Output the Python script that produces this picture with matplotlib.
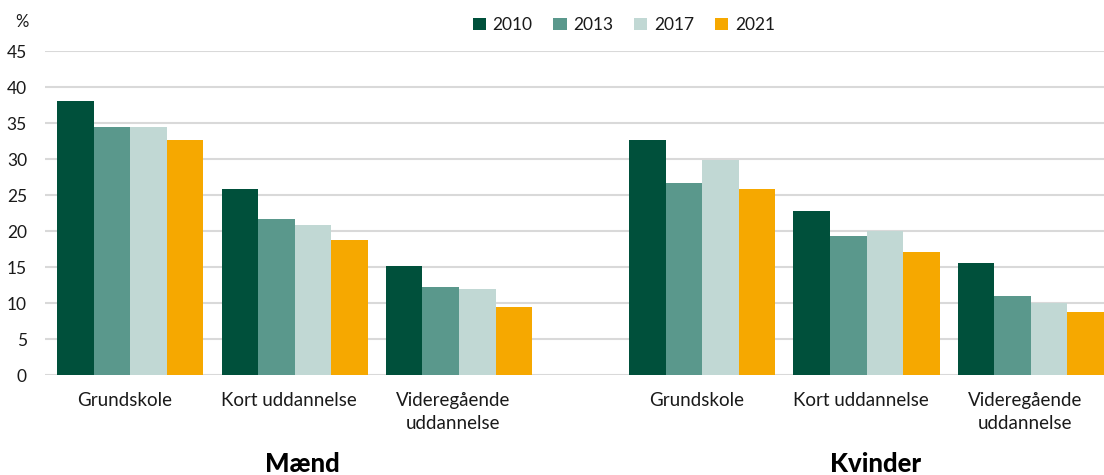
import matplotlib
matplotlib.use("Agg")
import matplotlib.pyplot as plt
from matplotlib.patches import Patch
import numpy as np

plt.rcParams['font.family'] = ['Lato', 'DejaVu Sans']

# data (percent)
years = ["2010", "2013", "2017", "2021"]
categories = ["Grundskole", "Kort uddannelse", "Videregående\nuddannelse"]
groups = ["Mænd", "Kvinder"]

maend_2010 = [38.1, 25.8, 15.2]
maend_2013 = [34.5, 21.6, 12.2]
maend_2017 = [34.4, 20.9, 12.0]
maend_2021 = [32.7, 18.7, 9.4]

kvinder_2010 = [32.7, 22.8, 15.6]
kvinder_2013 = [26.6, 19.3, 11.0]
kvinder_2017 = [29.8, 20.0, 10.0]
kvinder_2021 = [25.8, 17.1, 8.8]

colors = ["#00503B", "#5A988C", "#C1D8D4", "#F6A800"]
text_color = "#1a1a1a"
grid_color = "#d9d9d9"

series = [maend_2010 + kvinder_2010,
          maend_2013 + kvinder_2013,
          maend_2017 + kvinder_2017,
          maend_2021 + kvinder_2021]

# slot positions: three categories per group, a gap between the groups
pos = np.array([0, 1, 2, 3.48, 4.48, 5.48])
width = 0.2225

fig = plt.figure(figsize=(11.04, 4.75), dpi=100)
ax = fig.add_axes([45 / 1104, 1 - 375 / 475, 1 - 45 / 1104, (375 - 51) / 475])

for i, (vals, col) in enumerate(zip(series, colors)):
    ax.bar(pos + (i - 1.5) * width, vals, width, color=col, zorder=3)

ax.set_ylim(0, 45)
ax.set_xlim(-0.519, 5.925)
ax.set_yticks(range(0, 46, 5))
ax.yaxis.grid(True, color=grid_color, linewidth=1.5, zorder=0)
for s in ax.spines.values():
    s.set_visible(False)
ax.tick_params(axis="y", length=0, pad=13, labelsize=12.5, labelcolor=text_color)
ax.set_xticks([])

# category labels under each group of bars
for p, lab in zip(pos, categories * 2):
    ax.text(p - 0.036, -2.4, lab, ha="center", va="top", fontsize=13.5,
            color=text_color, linespacing=1.4)

# group titles
fig.text(302 / 1104, 1 - 464 / 475, groups[0], ha="center", va="center",
         fontsize=18.5, fontweight="black", color="black")
fig.text(876 / 1104, 1 - 464 / 475, groups[1], ha="center", va="center",
         fontsize=18.5, fontweight="black", color="black")

fig.text(22 / 1104, 1 - 22 / 475, "%", ha="center", va="center",
         fontsize=12, color=text_color)

handles = [Patch(facecolor=c, label=y) for c, y in zip(colors, years)]
fig.legend(handles=handles, loc="center", bbox_to_anchor=(624 / 1104, 1 - 25 / 475),
           ncol=4, frameon=False, fontsize=12.5, handlelength=0.75, handleheight=0.75,
           handletextpad=0.4, columnspacing=1.2, labelcolor=text_color)

fig.savefig("out.png", dpi=100)
